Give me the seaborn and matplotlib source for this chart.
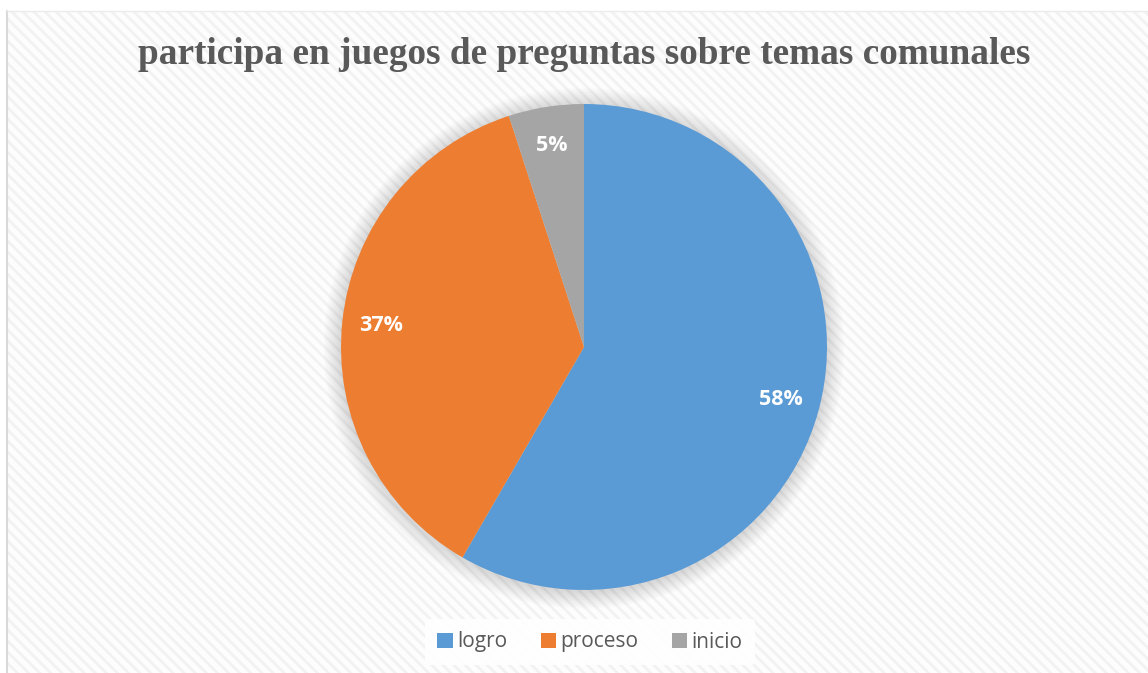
import matplotlib
matplotlib.use("Agg")
import matplotlib.pyplot as plt
import seaborn as sns
from matplotlib.patches import Rectangle, Circle

categories = ["logro", "proceso", "inicio"]
values = [35, 22, 3]
colors = ["#5B9BD5", "#ED7D31", "#A5A5A5"]
title = "participa en juegos de preguntas sobre temas comunales"

sns.set_style("white")
plt.rcParams["font.family"] = ["Open Sans", "DejaVu Sans"]
plt.rcParams["hatch.linewidth"] = 2.0

W, H = 1148, 673
fig = plt.figure(figsize=(W / 100, H / 100), dpi=100)
fig.patch.set_facecolor("white")

# background chart area with diagonal stripes
bg = fig.add_axes([0, 0, 1, 1])
bg.set_xlim(0, W)
bg.set_ylim(H, 0)
bg.axis("off")
bg.add_patch(Rectangle((7, 11), W, H, facecolor="#fdfdfd", edgecolor="#f2f2f2",
                       hatch="\\\\\\", linewidth=0))
bg.plot([7, 7], [11, H], color="#d9d9d9", lw=1.5)
bg.plot([7, W], [11, 11], color="#ececec", lw=1)

# pie
cx, cy, r = 584, 347, 243
ax = fig.add_axes([(cx - r) / W, (H - cy - r) / H, 2 * r / W, 2 * r / H])
ax.axis("off")
for i in range(12):
    ax.add_patch(Circle((0, -0.005), 1.0 + 0.006 * (12 - i), facecolor="#000000",
                        alpha=0.012, edgecolor="none", clip_on=False))
wedges, texts, autotexts = ax.pie(values, colors=colors, startangle=90, counterclock=False,
                                  radius=1.0, autopct="%1.0f%%", pctdistance=0.84,
                                  wedgeprops=dict(linewidth=0))
ax.set_xlim(-1, 1)
ax.set_ylim(-1, 1)
ax.set_aspect("equal")
for t in autotexts:
    t.set_color("white")
    t.set_fontweight("bold")
    t.set_fontsize(15.5)

fig.text(cx / W, 1 - 55 / H, title, ha="center", va="center",
         family=["Liberation Serif", "DejaVu Serif"], fontweight="bold",
         fontsize=26.8, color="#595959")

leg = fig.legend(wedges, categories, loc="center", bbox_to_anchor=(590 / W, 1 - 642 / H),
                 ncol=3, frameon=True, fontsize=15, handlelength=0.75, handleheight=0.75,
                 handletextpad=0.2, columnspacing=1.6, borderpad=0.6)
leg.get_frame().set_facecolor("white")
leg.get_frame().set_edgecolor("none")
leg.get_frame().set_alpha(0.9)
for t in leg.get_texts():
    t.set_color("#595959")

fig.savefig("out.png", dpi=100)
